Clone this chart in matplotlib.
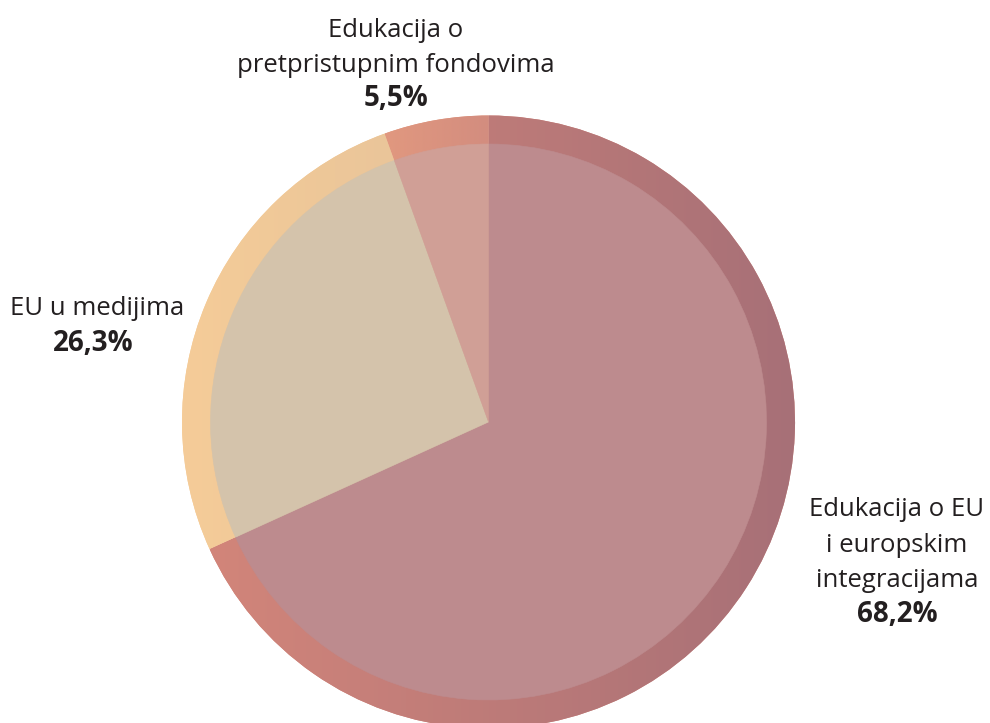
"""Pie chart: raspodjela tema edukacije (EU)."""

import matplotlib

matplotlib.use("Agg")
import matplotlib.pyplot as plt
import numpy as np
from matplotlib.colors import LinearSegmentedColormap

# Data
categories = [
    "Edukacija o EU\ni europskim\nintegracijama",
    "EU u medijima",
    "Edukacija o\npretpristupnim fondovima",
]
shares = [68.2, 26.3, 5.5]
share_labels = ["68,2%", "26,3%", "5,5%"]

# Colours: outer ring gradient (left -> right) and inner fill
ring_colors = [("#d2857a", "#a77077"), ("#f5cc98", "#e5c29a"), ("#e1987f", "#d38d7f")]
inner_colors = ["#bd8b8e", "#d4c3ab", "#d09f96"]

W, H = 990, 723
cx, cy = 488.5, H - 422
R_OUT, R_IN = 306.5, 278

fig = plt.figure(figsize=(W / 100, H / 100), dpi=100)
ax = fig.add_axes([0, 0, 1, 1])

# Outer ring wedges, filled with a horizontal gradient
outer, _ = ax.pie(
    shares,
    radius=R_OUT,
    center=(cx, cy),
    startangle=90,
    counterclock=False,
    colors=[c[0] for c in ring_colors],
    wedgeprops=dict(linewidth=0),
    frame=True,
)
grad = np.linspace(0, 1, 256).reshape(1, -1)
for wedge, (c0, c1) in zip(outer, ring_colors):
    ext = wedge.get_path().get_extents(wedge.get_transform() - ax.transData)
    cmap = LinearSegmentedColormap.from_list("g", [c0, c1])
    im = ax.imshow(
        grad,
        extent=[ext.x0, ext.x1, ext.y0, ext.y1],
        cmap=cmap,
        aspect="auto",
        zorder=wedge.get_zorder() + 0.1,
        interpolation="bilinear",
    )
    im.set_clip_path(wedge)

# Inner pie
inner, _ = ax.pie(
    shares,
    radius=R_IN,
    center=(cx, cy),
    startangle=90,
    counterclock=False,
    colors=inner_colors,
    wedgeprops=dict(linewidth=0.4, zorder=5),
    frame=True,
)
for w in inner:
    w.set_edgecolor(w.get_facecolor())

ax.set_xlim(0, W)
ax.set_ylim(0, H)
ax.set_aspect("auto")
ax.axis("off")

font = "Open Sans"
name_style = dict(family=font, fontsize=18.5, color="#231f20", ha="center",
                  va="baseline", linespacing=1.55)
pct_style = dict(family=font, fontsize=20, color="#231f20", ha="center",
                 va="baseline", fontweight="bold")

# Labels (baseline positions in pixels from top)
ax.text(396, H - 72, categories[2], **name_style)
ax.text(396, H - 106, share_labels[2], **pct_style)

ax.text(97, H - 315, categories[1], **name_style)
ax.text(93, H - 351, share_labels[1], **pct_style)

ax.text(897, H - 587, categories[0], **name_style)
ax.text(897, H - 622, share_labels[0], **pct_style)

fig.savefig("out.png", dpi=100)
